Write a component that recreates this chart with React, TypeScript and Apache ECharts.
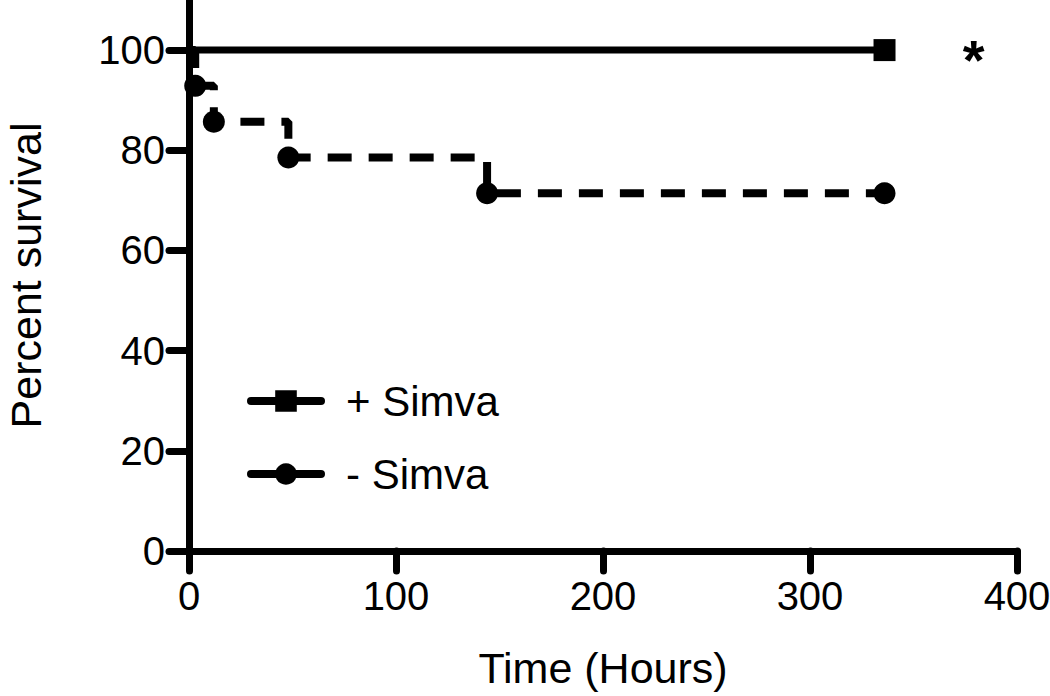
import React, { useEffect, useRef } from "react";
import * as echarts from "echarts";

const plusSimva: [number, number][] = [
  [0, 100],
  [336, 100],
];
const minusSimva: [number, number][] = [
  [0, 100],
  [3, 92.86],
  [12, 85.71],
  [48, 78.57],
  [144, 71.43],
  [336, 71.43],
];
const xTicks = [0, 100, 200, 300, 400];
const yTicks = [0, 20, 40, 60, 80, 100];
const seriesNames = ["+ Simva", "- Simva"];
const asteriskPos: [number, number] = [380, 100];

const FONT = "'Liberation Sans', Arial, Helvetica, sans-serif";

export default function App() {
  const ref = useRef<HTMLDivElement>(null);
  useEffect(() => {
    if (!ref.current) return;
    const chart = echarts.init(ref.current, null, { renderer: "svg" });
    const toData = (arr: [number, number][]) =>
      arr.map((p, i) => (i === 0 ? { value: p, symbol: "none" } : { value: p }));
    chart.setOption({
      animation: false,
      backgroundColor: "#fff",
      textStyle: { fontFamily: FONT, color: "#000" },
      grid: {
        left: 189,
        right: 33,
        top: 0,
        bottom: 145,
        containLabel: false,
        outerBoundsMode: "none",
      },
      xAxis: {
        type: "value",
        min: 0,
        max: 400,
        interval: 100,
        name: "Time (Hours)",
        nameLocation: "middle",
        nameGap: 95,
        nameTextStyle: { fontSize: 43, color: "#000", fontFamily: FONT },
        splitLine: { show: false },
        axisLine: { lineStyle: { color: "#000", width: 7, cap: "round" } },
        axisTick: {
          show: true,
          inside: false,
          length: 20,
          customValues: xTicks,
          lineStyle: { color: "#000", width: 7, cap: "round" },
        },
        axisLabel: {
          customValues: xTicks,
          fontSize: 40,
          color: "#000",
          fontFamily: FONT,
          margin: 25,
        },
      },
      yAxis: {
        type: "value",
        min: 0,
        max: 110,
        interval: 20,
        name: "Percent survival",
        nameLocation: "middle",
        nameGap: 145,
        nameTextStyle: { fontSize: 43, lineHeight: 36, color: "#000", fontFamily: FONT },
        splitLine: { show: false },
        axisLine: { lineStyle: { color: "#000", width: 7, cap: "round" } },
        axisTick: {
          show: true,
          inside: false,
          length: 20,
          customValues: yTicks,
          lineStyle: { color: "#000", width: 7, cap: "round" },
        },
        axisLabel: {
          customValues: yTicks,
          fontSize: 40,
          color: "#000",
          fontFamily: FONT,
          margin: 24,
        },
      },
      legend: {
        orient: "vertical",
        left: 247,
        top: 380,
        padding: 0,
        itemWidth: 70,
        itemHeight: 27,
        itemGap: 31,
        textStyle: { fontSize: 42, color: "#000", fontFamily: FONT, padding: [0, 0, 0, 20] },
        data: seriesNames.map((n) => ({
          name: n,
          lineStyle: { type: "solid", width: 8, cap: "round", color: "#000" },
          itemStyle: { color: "#000" },
        })),
      },
      series: [
        {
          name: seriesNames[0],
          type: "line",
          data: toData(plusSimva),
          symbol: "rect",
          symbolSize: 22,
          lineStyle: { color: "#000", width: 7 },
          itemStyle: { color: "#000" },
          z: 3,
          markPoint: {
            symbol: "circle",
            symbolSize: 1,
            itemStyle: { color: "rgba(0,0,0,0)" },
            data: [{ coord: asteriskPos }],
            label: {
              show: true,
              formatter: "*",
              position: "inside",
              fontSize: 56,
              fontWeight: "bold",
              color: "#000",
              fontFamily: FONT,
              offset: [-2, 9],
            },
          },
        },
        {
          name: seriesNames[1],
          type: "line",
          step: "end",
          data: toData(minusSimva),
          symbol: "circle",
          symbolSize: 22,
          lineStyle: { color: "#000", width: 8, type: [24, 17] },
          itemStyle: { color: "#000" },
          z: 2,
        },
      ],
    });
    return () => chart.dispose();
  }, []);
  return (
    <div
      ref={ref}
      style={{ position: "absolute", left: 0, top: 0, width: 1050, height: 696 }}
    />
  );
}
